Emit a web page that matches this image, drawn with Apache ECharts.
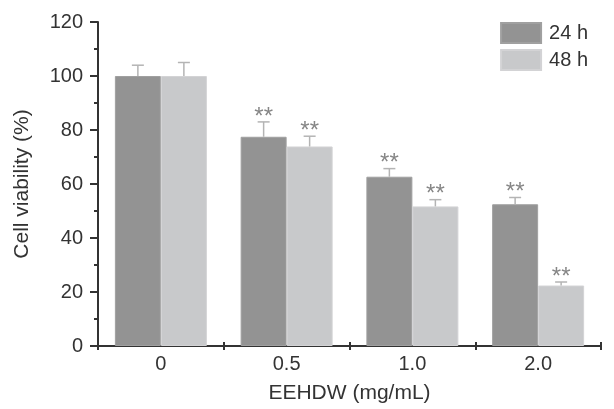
<!DOCTYPE html>
<html>
<head>
<meta charset="utf-8">
<script src="https://cdn.jsdelivr.net/npm/echarts@6/dist/echarts.min.js"></script>
<style>
  html, body { margin: 0; padding: 0; background: #fff; }
  #chart { width: 614px; height: 409px; }
</style>
</head>
<body>
<div id="chart"></div>
<script>
// data
const categories = ['0', '0.5', '1.0', '2.0'];
const seriesNames = ['24 h', '48 h'];
const values24 = [100, 77.5, 62.7, 52.5];
const values48 = [100, 73.9, 51.7, 22.4];
const sd24 = [4, 5.5, 3, 2.5];
const sd48 = [5, 3.8, 2.5, 1.3];
const sig24 = ['', '**', '**', '**'];
const sig48 = ['', '**', '**', '**'];

const FONT = '"Liberation Sans", Arial, sans-serif';
const BAR_W = 46;

const chart = echarts.init(document.getElementById('chart'));

// error bar + significance marks, drawn on top of each bar
function errSeries(vals, sds, sigs, offset) {
  return {
    type: 'custom',
    xAxisIndex: 0,
    yAxisIndex: 0,
    z: 5,
    silent: true,
    data: vals.map((v, i) => [i, v, v + sds[i], sigs[i]]),
    renderItem: (params, api) => {
      const base = api.coord([api.value(0), api.value(1)]);
      const top = api.coord([api.value(0), api.value(2)]);
      const x = base[0] + offset;
      const children = [
        { type: 'line', shape: { x1: x, y1: base[1], x2: x, y2: top[1] },
          style: { stroke: '#b4b4b4', lineWidth: 1.5 } },
        { type: 'line', shape: { x1: x - 6, y1: top[1], x2: x + 6, y2: top[1] },
          style: { stroke: '#b4b4b4', lineWidth: 1.5 } }
      ];
      const s = api.value(3);
      if (s) {
        children.push({
          type: 'text',
          style: {
            x: x, y: top[1] + 7, text: s, fill: '#868686',
            font: '24px ' + FONT, align: 'center', verticalAlign: 'bottom'
          }
        });
      }
      return { type: 'group', children: children };
    }
  };
}

const option = {
  backgroundColor: '#fff',
  animation: false,
  textStyle: { fontFamily: FONT },
  grid: { left: 98, right: 13, top: 22, bottom: 60 },
  legend: {
    right: 21, top: 17, orient: 'vertical',
    itemWidth: 40, itemHeight: 20, itemGap: 5,
    data: seriesNames,
    textStyle: { fontSize: 20, color: '#333', fontFamily: FONT, padding: [0, 0, 0, 3] },
    icon: 'rect'
  },
  xAxis: [{
    type: 'category',
    data: categories,
    name: 'EEHDW (mg/mL)',
    nameLocation: 'middle',
    nameGap: 37,
    nameTextStyle: { fontSize: 21, color: '#333' },
    axisLine: { lineStyle: { color: '#333', width: 2 } },
    axisTick: { show: true, length: 4, lineStyle: { color: '#333', width: 2 } },
    axisLabel: { fontSize: 20, color: '#333', margin: 8 }
  }, {
    type: 'category',
    data: categories,
    position: 'bottom',
    axisLine: { show: false },
    axisTick: { show: true, inside: true, length: 4, lineStyle: { color: '#333', width: 2 } },
    axisLabel: { show: false }
  }],
  yAxis: {
    type: 'value',
    min: 0, max: 120, interval: 20,
    name: 'Cell viability (%)',
    nameLocation: 'middle',
    nameGap: 65,
    nameTextStyle: { fontSize: 21, color: '#333' },
    axisLine: { show: true, lineStyle: { color: '#333', width: 2 } },
    axisTick: { show: true, length: 8, lineStyle: { color: '#333', width: 2 } },
    minorTick: { show: true, splitNumber: 2, length: 4, lineStyle: { color: '#333', width: 2 } },
    splitLine: { show: false },
    axisLabel: { fontSize: 20, color: '#333', margin: 15 }
  },
  series: [
    {
      name: seriesNames[0], type: 'bar', data: values24,
      barWidth: BAR_W, barGap: '0%',
      itemStyle: { color: '#939393', borderColor: '#a0a0a0', borderWidth: 1 }
    },
    {
      name: seriesNames[1], type: 'bar', data: values48,
      barWidth: BAR_W,
      itemStyle: { color: '#c8c9cb', borderColor: '#d3d3d5', borderWidth: 1 }
    },
    errSeries(values24, sd24, sig24, -BAR_W / 2),
    errSeries(values48, sd48, sig48, BAR_W / 2)
  ]
};

chart.setOption(option);
</script>
</body>
</html>
